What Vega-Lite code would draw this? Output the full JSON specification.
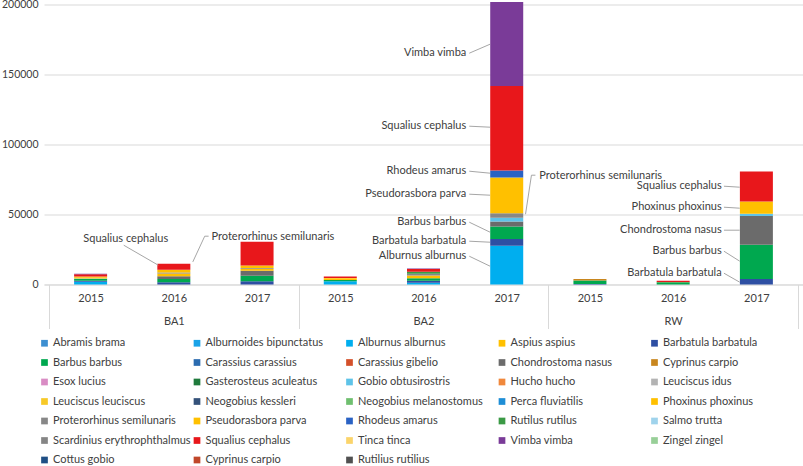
{
  "$schema": "https://vega.github.io/schema/vega-lite/v6.json",
  "width": 759,
  "height": 280,
  "autosize": "none",
  "padding": {"left": 44, "top": 4.5, "right": 0, "bottom": 181.5},
  "config": {
    "font": "Lato",
    "view": {"stroke": null},
    "axis": {"labelColor": "#404040", "labelFontSize": 11, "labelFont": "Lato"}
  },
  "datasets": {
    "catch": [
      {"site": "BA1", "year": 2015, "species": "Alburnus alburnus", "value": 2000},
      {"site": "BA1", "year": 2015, "species": "Barbatula barbatula", "value": 700},
      {"site": "BA1", "year": 2015, "species": "Barbus barbus", "value": 1200},
      {"site": "BA1", "year": 2015, "species": "Gobio obtusirostris", "value": 300},
      {"site": "BA1", "year": 2015, "species": "Phoxinus phoxinus", "value": 900},
      {"site": "BA1", "year": 2015, "species": "Pseudorasbora parva", "value": 600},
      {"site": "BA1", "year": 2015, "species": "Squalius cephalus", "value": 1600},
      {"site": "BA1", "year": 2015, "species": "Vimba vimba", "value": 300},
      {"site": "BA1", "year": 2016, "species": "Barbatula barbatula", "value": 1600},
      {"site": "BA1", "year": 2016, "species": "Barbus barbus", "value": 2400},
      {"site": "BA1", "year": 2016, "species": "Chondrostoma nasus", "value": 1850},
      {"site": "BA1", "year": 2016, "species": "Phoxinus phoxinus", "value": 2000},
      {"site": "BA1", "year": 2016, "species": "Proterorhinus semilunaris", "value": 700},
      {"site": "BA1", "year": 2016, "species": "Pseudorasbora parva", "value": 2000},
      {"site": "BA1", "year": 2016, "species": "Squalius cephalus", "value": 4300},
      {"site": "BA1", "year": 2017, "species": "Barbatula barbatula", "value": 2300},
      {"site": "BA1", "year": 2017, "species": "Barbus barbus", "value": 4000},
      {"site": "BA1", "year": 2017, "species": "Chondrostoma nasus", "value": 3500},
      {"site": "BA1", "year": 2017, "species": "Phoxinus phoxinus", "value": 1500},
      {"site": "BA1", "year": 2017, "species": "Proterorhinus semilunaris", "value": 500},
      {"site": "BA1", "year": 2017, "species": "Pseudorasbora parva", "value": 1800},
      {"site": "BA1", "year": 2017, "species": "Squalius cephalus", "value": 17000},
      {"site": "BA2", "year": 2015, "species": "Alburnus alburnus", "value": 2300},
      {"site": "BA2", "year": 2015, "species": "Barbus barbus", "value": 1000},
      {"site": "BA2", "year": 2015, "species": "Phoxinus phoxinus", "value": 800},
      {"site": "BA2", "year": 2015, "species": "Pseudorasbora parva", "value": 600},
      {"site": "BA2", "year": 2015, "species": "Squalius cephalus", "value": 1100},
      {"site": "BA2", "year": 2016, "species": "Alburnus alburnus", "value": 1200},
      {"site": "BA2", "year": 2016, "species": "Barbatula barbatula", "value": 1400},
      {"site": "BA2", "year": 2016, "species": "Barbus barbus", "value": 1850},
      {"site": "BA2", "year": 2016, "species": "Phoxinus phoxinus", "value": 1900},
      {"site": "BA2", "year": 2016, "species": "Proterorhinus semilunaris", "value": 1400},
      {"site": "BA2", "year": 2016, "species": "Rutilus rutilus", "value": 1400},
      {"site": "BA2", "year": 2016, "species": "Squalius cephalus", "value": 1900},
      {"site": "BA2", "year": 2016, "species": "Vimba vimba", "value": 400},
      {"site": "BA2", "year": 2017, "species": "Alburnus alburnus", "value": 27700},
      {"site": "BA2", "year": 2017, "species": "Barbatula barbatula", "value": 4800},
      {"site": "BA2", "year": 2017, "species": "Barbus barbus", "value": 9000},
      {"site": "BA2", "year": 2017, "species": "Chondrostoma nasus", "value": 3500},
      {"site": "BA2", "year": 2017, "species": "Gobio obtusirostris", "value": 2600},
      {"site": "BA2", "year": 2017, "species": "Proterorhinus semilunaris", "value": 3300},
      {"site": "BA2", "year": 2017, "species": "Pseudorasbora parva", "value": 25500},
      {"site": "BA2", "year": 2017, "species": "Rhodeus amarus", "value": 5000},
      {"site": "BA2", "year": 2017, "species": "Squalius cephalus", "value": 60300},
      {"site": "BA2", "year": 2017, "species": "Vimba vimba", "value": 60000},
      {"site": "RW", "year": 2015, "species": "Barbatula barbatula", "value": 400},
      {"site": "RW", "year": 2015, "species": "Barbus barbus", "value": 2400},
      {"site": "RW", "year": 2015, "species": "Cyprinus carpio", "value": 1200},
      {"site": "RW", "year": 2016, "species": "Barbus barbus", "value": 1200},
      {"site": "RW", "year": 2016, "species": "Rutilus rutilus", "value": 500},
      {"site": "RW", "year": 2016, "species": "Squalius cephalus", "value": 1000},
      {"site": "RW", "year": 2017, "species": "Barbatula barbatula", "value": 4000},
      {"site": "RW", "year": 2017, "species": "Barbus barbus", "value": 24400},
      {"site": "RW", "year": 2017, "species": "Chondrostoma nasus", "value": 20600},
      {"site": "RW", "year": 2017, "species": "Gobio obtusirostris", "value": 1500},
      {"site": "RW", "year": 2017, "species": "Phoxinus phoxinus", "value": 8700},
      {"site": "RW", "year": 2017, "species": "Squalius cephalus", "value": 21500}
    ],
    "labelsRight": [
      {"pos": 5.014, "value": 165220, "label": "Vimba vimba"},
      {"pos": 5.014, "value": 113070, "label": "Squalius cephalus"},
      {"pos": 5.014, "value": 80930, "label": "Rhodeus amarus"},
      {"pos": 5.014, "value": 64500, "label": "Pseudorasbora parva"},
      {"pos": 5.014, "value": 44500, "label": "Barbus barbus"},
      {"pos": 5.014, "value": 30930, "label": "Barbatula barbatula"},
      {"pos": 5.014, "value": 20210, "label": "Alburnus alburnus"},
      {"pos": 8.083, "value": 70210, "label": "Squalius cephalus"},
      {"pos": 8.083, "value": 55210, "label": "Phoxinus phoxinus"},
      {"pos": 8.083, "value": 38790, "label": "Chondrostoma nasus"},
      {"pos": 8.083, "value": 23790, "label": "Barbus barbus"},
      {"pos": 8.083, "value": 8070, "label": "Barbatula barbatula"}
    ],
    "labelsLeft": [
      {"pos": 1.953, "value": 33790, "label": "Proterorhinus semilunaris"},
      {"pos": 5.892, "value": 77360, "label": "Proterorhinus semilunaris"}
    ],
    "labelsCenter": [
      {"pos": 0.922, "value": 32360, "label": "Squalius cephalus"}
    ],
    "leaders": [
      {"pos": 0.898, "value": 28080, "pos2": 1.313, "value2": 13790},
      {"pos": 1.871, "value": 34500, "pos2": 1.728, "value2": 16140},
      {"pos": 1.871, "value": 34500, "pos2": 1.918, "value2": 34500},
      {"pos": 5.05, "value": 165220, "pos2": 5.3, "value2": 171640},
      {"pos": 5.05, "value": 113070, "pos2": 5.3, "value2": 112360},
      {"pos": 5.05, "value": 80930, "pos2": 5.3, "value2": 79500},
      {"pos": 5.05, "value": 64500, "pos2": 5.3, "value2": 63790},
      {"pos": 5.05, "value": 44500, "pos2": 5.3, "value2": 37360},
      {"pos": 5.05, "value": 30930, "pos2": 5.3, "value2": 30210},
      {"pos": 5.05, "value": 20210, "pos2": 5.3, "value2": 13070},
      {"pos": 5.797, "value": 78080, "pos2": 5.726, "value2": 50210},
      {"pos": 5.797, "value": 78080, "pos2": 5.845, "value2": 78080},
      {"pos": 8.11, "value": 70210, "pos2": 8.3, "value2": 69500},
      {"pos": 8.11, "value": 55210, "pos2": 8.3, "value2": 54500},
      {"pos": 8.11, "value": 38790, "pos2": 8.3, "value2": 38790},
      {"pos": 8.11, "value": 23790, "pos2": 8.3, "value2": 16640},
      {"pos": 8.11, "value": 8070, "pos2": 8.3, "value2": 1640}
    ]
  },
  "layer": [
    {
      "data": {"name": "catch"},
      "transform": [
        {"calculate": "indexof(['BA1','BA2','RW'], datum.site) * 3 + datum.year - 2015 + 0.5", "as": "pos"}
      ],
      "mark": {"type": "bar", "width": 33},
      "encoding": {
        "x": {
          "field": "pos",
          "type": "quantitative",
          "scale": {"domain": [0, 9], "nice": false, "zero": false},
          "axis": {
            "orient": "bottom",
            "values": [0.5, 1.5, 2.5, 3.5, 4.5, 5.5, 6.5, 7.5, 8.5],
            "labelExpr": "['2015','2016','2017'][floor(datum.value) % 3]",
            "ticks": false,
            "grid": false,
            "domainColor": "#d9d9d9",
            "labelPadding": 8,
            "title": null
          }
        },
        "y": {
          "field": "value",
          "type": "quantitative",
          "scale": {"domain": [0, 200000], "nice": false},
          "axis": {
            "values": [0, 25000, 50000, 75000, 100000, 125000, 150000, 175000, 200000],
            "format": "d",
            "domain": false,
            "ticks": false,
            "gridColor": "#d9d9d9",
            "labelPadding": 6,
            "labelFontSize": 10.5,
            "title": null
          }
        },
        "color": {
          "field": "species",
          "type": "nominal",
          "scale": {
            "domain": [
              "Abramis brama", "Alburnoides bipunctatus", "Alburnus alburnus", "Aspius aspius", "Barbatula barbatula",
              "Barbus barbus", "Carassius carassius", "Carassius gibelio", "Chondrostoma nasus", "Cyprinus carpio",
              "Esox lucius", "Gasterosteus aculeatus", "Gobio obtusirostris", "Hucho hucho", "Leuciscus idus",
              "Leuciscus leuciscus", "Neogobius kessleri", "Neogobius melanostomus", "Perca fluviatilis", "Phoxinus phoxinus",
              "Proterorhinus semilunaris", "Pseudorasbora parva", "Rhodeus amarus", "Rutilus rutilus", "Salmo trutta",
              "Scardinius erythrophthalmus", "Squalius cephalus", "Tinca tinca", "Vimba vimba", "Zingel zingel",
              "Cottus gobio", "Cyprinus carpio (2)", "Rutilius rutilius"
            ],
            "range": [
              "#3d8fd1", "#1aa3e8", "#00aeef", "#ffc000", "#2e4fa3",
              "#00a84f", "#2b6cb0", "#d4502a", "#6b6b6b", "#c8861e",
              "#d98cc4", "#1f7a3c", "#5ec3e8", "#f0883c", "#b3b3b3",
              "#f7c928", "#34527a", "#6fbf6f", "#1e8ed6", "#ffc000",
              "#878787", "#ffc000", "#2a62c4", "#3b9a45", "#9fd3ec",
              "#858585", "#e8171b", "#fbd46a", "#7a3b98", "#98cf98",
              "#1f4f85", "#c0472a", "#505050"
            ]
          },
          "legend": {
            "orient": "none",
            "legendX": -5,
            "legendY": 333,
            "direction": "horizontal",
            "columns": 5,
            "gridAlign": "all",
            "columnPadding": 0.5,
            "rowPadding": 7.5,
            "symbolLimit": 0,
            "title": null,
            "symbolType": "square",
            "symbolSize": 45,
            "symbolStrokeWidth": 0,
            "labelOffset": 3,
            "labelFontSize": 11,
            "labelFont": "Lato",
            "labelColor": "#404040",
            "labelLimit": 200,
            "labelExpr": "replace(datum.label, ' (2)', '')"
          }
        },
        "order": {"field": "species", "type": "ordinal", "sort": "ascending"}
      }
    },
    {
      "data": {"name": "leaders"},
      "mark": {"type": "rule", "color": "#a6a6a6", "strokeWidth": 1},
      "encoding": {
        "x": {
          "field": "pos",
          "type": "quantitative",
          "scale": {"domain": [0, 9], "nice": false, "zero": false},
          "axis": {
            "orient": "bottom",
            "values": [0, 1.5, 3, 4.5, 6, 7.5, 9],
            "labelExpr": "datum.value == 1.5 ? 'BA1' : datum.value == 4.5 ? 'BA2' : datum.value == 7.5 ? 'RW' : ''",
            "domain": false,
            "grid": false,
            "tickSize": 44,
            "tickColor": {"condition": {"test": "datum.value % 3 == 0", "value": "#d9d9d9"}, "value": "transparent"},
            "labelPadding": -13,
            "labelFontSize": 11,
            "title": null
          }
        },
        "x2": {"field": "pos2"},
        "y": {"field": "value", "type": "quantitative", "scale": {"domain": [0, 200000], "nice": false}},
        "y2": {"field": "value2"}
      }
    },
    {
      "data": {"name": "labelsRight"},
      "mark": {"type": "text", "align": "right", "baseline": "middle", "fontSize": 11, "color": "#404040"},
      "encoding": {
        "x": {"field": "pos", "type": "quantitative", "scale": {"domain": [0, 9], "nice": false, "zero": false}, "axis": null},
        "y": {"field": "value", "type": "quantitative", "scale": {"domain": [0, 200000], "nice": false}},
        "text": {"field": "label"}
      }
    },
    {
      "data": {"name": "labelsLeft"},
      "mark": {"type": "text", "align": "left", "baseline": "middle", "fontSize": 11, "color": "#404040"},
      "encoding": {
        "x": {"field": "pos", "type": "quantitative", "scale": {"domain": [0, 9], "nice": false, "zero": false}, "axis": null},
        "y": {"field": "value", "type": "quantitative", "scale": {"domain": [0, 200000], "nice": false}},
        "text": {"field": "label"}
      }
    },
    {
      "data": {"name": "labelsCenter"},
      "mark": {"type": "text", "align": "center", "baseline": "middle", "fontSize": 11, "color": "#404040"},
      "encoding": {
        "x": {"field": "pos", "type": "quantitative", "scale": {"domain": [0, 9], "nice": false, "zero": false}, "axis": null},
        "y": {"field": "value", "type": "quantitative", "scale": {"domain": [0, 200000], "nice": false}},
        "text": {"field": "label"}
      }
    }
  ],
  "resolve": {"axis": {"x": "independent"}}
}
